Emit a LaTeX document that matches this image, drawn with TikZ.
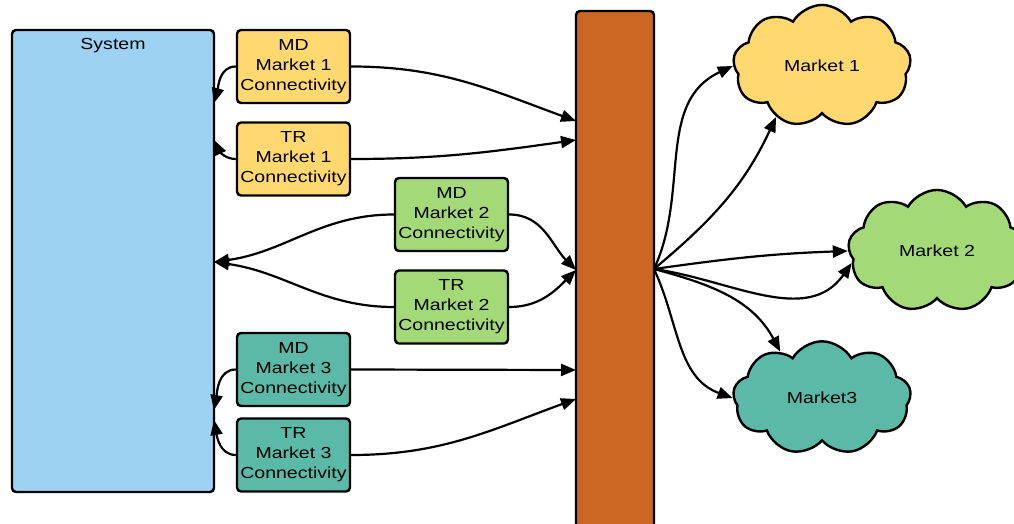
\documentclass[tikz,border=0pt]{standalone}
\usepackage{fontspec}
\setmainfont[FakeStretch=1.22]{Liberation Sans}
\usetikzlibrary{shapes.symbols,arrows.meta}
\definecolor{sysblue}{RGB}{157,210,243}
\definecolor{ylw}{RGB}{255,217,112}
\definecolor{grn}{RGB}{163,217,119}
\definecolor{teal2}{RGB}{91,185,167}
\definecolor{barorange}{RGB}{204,102,34}
\begin{document}
\begin{tikzpicture}[x=1pt,y=-1pt,
  box/.style={draw=black,line width=2.4pt,rounded corners=4pt,minimum width=113pt,minimum height=73pt,align=center,inner sep=0pt,font=\fontsize{16}{20}\selectfont},
  mkt/.style={cloud,cloud puffs=9,cloud puff arc=120,draw=black,line width=2.4pt,minimum width=178pt,minimum height=106pt,inner sep=0pt,font=\fontsize{16}{20}\selectfont},
  conn/.style={line width=2.2pt,-{Triangle[length=15pt,width=12pt]}}]
\useasboundingbox (0,0) rectangle (1014,524);
\fill[white] (0,0) rectangle (1014,524);
% system
\node[draw=black,line width=2.4pt,fill=sysblue,rounded corners=4pt,minimum width=202pt,minimum height=462pt,inner sep=0pt] (sys) at (113,261) {};
\node[anchor=north,font=\fontsize{16}{20}\selectfont,inner sep=0pt] (systxt) at (113,38) {System};
% bar
\node[draw=black,line width=2.4pt,fill=barorange,rounded corners=4pt,minimum width=78pt,minimum height=540pt,inner sep=0pt] (bar) at (615,281) {};
% boxes
\node[box,fill=ylw] (md1) at (293.5,66.5) {MD\\Market 1\\Connectivity};
\node[box,fill=ylw] (tr1) at (293.5,159) {TR\\Market 1\\Connectivity};
\node[box,fill=grn] (md2) at (451.5,214.5) {MD\\Market 2\\Connectivity};
\node[box,fill=grn] (tr2) at (451.5,307) {TR\\Market 2\\Connectivity};
\node[box,fill=teal2] (md3) at (293.5,369.5) {MD\\Market 3\\Connectivity};
\node[box,fill=teal2] (tr3) at (293.5,455) {TR\\Market 3\\Connectivity};
% clouds
\node[mkt,fill=ylw] (m1) at (822,66) {Market 1};
\node[mkt,fill=grn] (m2) at (937,251) {Market 2};
\node[mkt,fill=teal2] (m3) at (822,398) {Market3};
% coordinates on edges
\coordinate (s1) at (214,103);
\coordinate (s2) at (214,140);
\coordinate (s3) at (214,262);
\coordinate (s4) at (214,410);
\coordinate (s5) at (214,420);
\coordinate (b1) at (576,121);
\coordinate (b2) at (576,140);
\coordinate (b3) at (576,270);
\coordinate (b5) at (576,370);
\coordinate (b6) at (576,399);
\coordinate (hub) at (654,269);
% left connectors
\draw[conn] (md1.west) to[out=180,in=75] (s1);
\draw[conn] (tr1.west) to[out=180,in=-65] (s2);
\draw[conn] (md2.west) to[out=180,in=8] (s3);
\draw[conn] (tr2.west) to[out=180,in=-8] (s3);
\draw[conn] (md3.west) to[out=180,in=80] (s4);
\draw[conn] (tr3.west) to[out=180,in=-80] (s5);
% right connectors to bar
\draw[conn] (md1.east) to[out=0,in=160] (b1);
\draw[conn] (tr1.east) to[out=0,in=188] (b2);
\draw[conn] (md2.east) to[out=0,in=135] (b3);
\draw[conn] (tr2.east) to[out=0,in=225] (b3);
\draw[conn] (md3.east) -- (b5);
\draw[conn] (tr3.east) to[out=0,in=200] (b6);
% hub to markets
\draw[conn] (hub) to[out=65,in=205] (m1.west);
\draw[conn] (hub) to[out=40,in=245] (m1.228);
\draw[conn] (hub) to[out=8,in=182] (m2.west);
\draw[conn] (hub) to[out=-8,in=235] (m2.188);
\draw[conn] (hub) to[out=-15,in=118] (m3.132);
\draw[conn] (hub) to[out=-65,in=160] (m3.west);
\end{tikzpicture}
\end{document}
